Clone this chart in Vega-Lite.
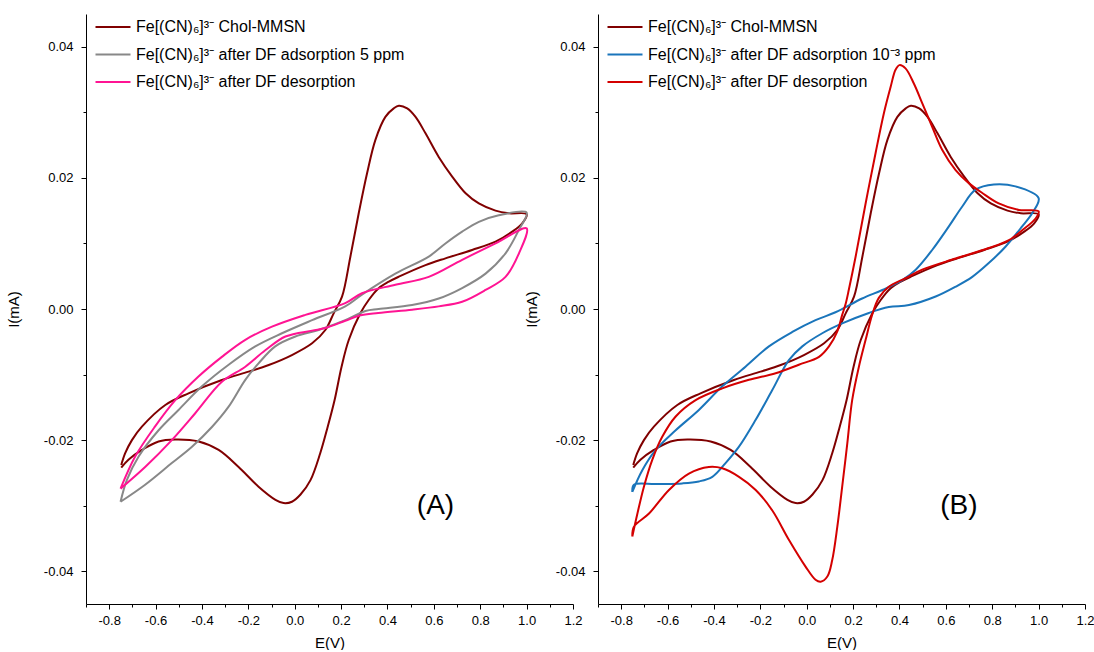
{
  "$schema": "https://vega.github.io/schema/vega-lite/v6.json",
  "background": "white",
  "padding": {"left": 6, "top": 14, "right": 0, "bottom": 0},
  "config": {
    "view": {"stroke": null},
    "font": "Liberation Sans",
    "axis": {
      "domainColor": "black", "domainWidth": 1, "tickColor": "black", "tickWidth": 1,
      "labelColor": "black", "titleColor": "black", "labelFontSize": 13, "titleFontSize": 15,
      "titleFontWeight": "normal", "grid": false, "labelFont": "Liberation Sans", "titleFont": "Liberation Sans",
      "labelFlush": false, "labelOverlap": false
    },
    "legend": {
      "orient": "none", "legendX": 19, "legendY": 5, "title": null, "padding": 0,
      "symbolType": "M-2.5,0H2.5", "symbolSize": 196, "symbolStrokeWidth": 2,
      "labelFontSize": 16, "labelFont": "Liberation Sans", "labelColor": "black", "labelLimit": 500,
      "labelOffset": 15, "rowPadding": 11.5
    }
  },
  "datasets": {
    "cv": [
      {"series":"chol","k":1,"E":-0.748,"I":-0.0238},{"series":"chol","k":2,"E":-0.731,"I":-0.0220},{"series":"chol","k":3,"E":-0.702,"I":-0.0200},{"series":"chol","k":4,"E":-0.659,"I":-0.01795},{"series":"chol","k":5,"E":-0.558,"I":-0.01464},{"series":"chol","k":6,"E":-0.458,"I":-0.01286},{"series":"chol","k":7,"E":-0.314,"I":-0.01083},{"series":"chol","k":8,"E":-0.199,"I":-0.00956},{"series":"chol","k":9,"E":-0.112,"I":-0.00854},{"series":"chol","k":10,"E":-0.012,"I":-0.00702},{"series":"chol","k":11,"E":0.075,"I":-0.00523},{"series":"chol","k":12,"E":0.132,"I":-0.0032},{"series":"chol","k":13,"E":0.168,"I":-0.00066},{"series":"chol","k":14,"E":0.204,"I":0.00188},{"series":"chol","k":15,"E":0.240,"I":0.00798},{"series":"chol","k":16,"E":0.276,"I":0.0146},{"series":"chol","k":17,"E":0.312,"I":0.0207},{"series":"chol","k":18,"E":0.348,"I":0.0258},{"series":"chol","k":19,"E":0.391,"I":0.0293},{"series":"chol","k":20,"E":0.427,"I":0.0306},{"series":"chol","k":21,"E":0.449,"I":0.0310},{"series":"chol","k":22,"E":0.485,"I":0.0306},{"series":"chol","k":23,"E":0.521,"I":0.0293},{"series":"chol","k":24,"E":0.564,"I":0.0268},{"series":"chol","k":25,"E":0.621,"I":0.0232},{"series":"chol","k":26,"E":0.679,"I":0.0202},{"series":"chol","k":27,"E":0.737,"I":0.01765},{"series":"chol","k":28,"E":0.794,"I":0.0161},{"series":"chol","k":29,"E":0.866,"I":0.0150},{"series":"chol","k":30,"E":0.923,"I":0.0146},{"series":"chol","k":31,"E":1.0,"I":0.01445},{"series":"chol","k":32,"E":0.981,"I":0.01307},{"series":"chol","k":33,"E":0.938,"I":0.0118},{"series":"chol","k":34,"E":0.866,"I":0.01027},{"series":"chol","k":35,"E":0.765,"I":0.0090},{"series":"chol","k":36,"E":0.650,"I":0.00773},{"series":"chol","k":37,"E":0.564,"I":0.0067},{"series":"chol","k":38,"E":0.449,"I":0.00493},{"series":"chol","k":39,"E":0.406,"I":0.00417},{"series":"chol","k":40,"E":0.362,"I":0.00316},{"series":"chol","k":41,"E":0.319,"I":0.00137},{"series":"chol","k":42,"E":0.283,"I":-0.00066},{"series":"chol","k":43,"E":0.233,"I":-0.00473},{"series":"chol","k":44,"E":0.202,"I":-0.0088},{"series":"chol","k":45,"E":0.172,"I":-0.01388},{"series":"chol","k":46,"E":0.142,"I":-0.0180},{"series":"chol","k":47,"E":0.110,"I":-0.0220},{"series":"chol","k":48,"E":0.068,"I":-0.0261},{"series":"chol","k":49,"E":0.025,"I":-0.0283},{"series":"chol","k":50,"E":-0.012,"I":-0.0294},{"series":"chol","k":51,"E":-0.048,"I":-0.0296},{"series":"chol","k":52,"E":-0.083,"I":-0.0291},{"series":"chol","k":53,"E":-0.156,"I":-0.0271},{"series":"chol","k":54,"E":-0.242,"I":-0.0241},{"series":"chol","k":55,"E":-0.328,"I":-0.0215},{"series":"chol","k":56,"E":-0.414,"I":-0.0202},{"series":"chol","k":57,"E":-0.515,"I":-0.0199},{"series":"chol","k":58,"E":-0.587,"I":-0.0202},{"series":"chol","k":59,"E":-0.659,"I":-0.0215},{"series":"chol","k":60,"E":-0.717,"I":-0.0230},{"series":"chol","k":61,"E":-0.748,"I":-0.0242},

      {"series":"ads5","k":1,"E":-0.751,"I":-0.0294},{"series":"ads5","k":2,"E":-0.724,"I":-0.0261},{"series":"ads5","k":3,"E":-0.673,"I":-0.0225},{"series":"ads5","k":4,"E":-0.587,"I":-0.0185},{"series":"ads5","k":5,"E":-0.501,"I":-0.0154},{"series":"ads5","k":6,"E":-0.400,"I":-0.0118},{"series":"ads5","k":7,"E":-0.285,"I":-0.0085},{"series":"ads5","k":8,"E":-0.170,"I":-0.0057},{"series":"ads5","k":9,"E":-0.055,"I":-0.0037},{"series":"ads5","k":10,"E":0.075,"I":-0.0017},{"series":"ads5","k":11,"E":0.218,"I":0.0004},{"series":"ads5","k":12,"E":0.290,"I":0.0022},{"series":"ads5","k":13,"E":0.434,"I":0.0054},{"series":"ads5","k":14,"E":0.578,"I":0.0080},{"series":"ads5","k":15,"E":0.650,"I":0.0100},{"series":"ads5","k":16,"E":0.722,"I":0.0118},{"series":"ads5","k":17,"E":0.794,"I":0.0133},{"series":"ads5","k":18,"E":0.880,"I":0.0143},{"series":"ads5","k":19,"E":1.0,"I":0.0147},{"series":"ads5","k":20,"E":0.967,"I":0.0121},{"series":"ads5","k":21,"E":0.909,"I":0.0085},{"series":"ads5","k":22,"E":0.823,"I":0.0054},{"series":"ads5","k":23,"E":0.722,"I":0.0032},{"series":"ads5","k":24,"E":0.621,"I":0.0016},{"series":"ads5","k":25,"E":0.506,"I":0.0006},{"series":"ads5","k":26,"E":0.362,"I":0.0000},{"series":"ads5","k":27,"E":0.305,"I":-0.0003},{"series":"ads5","k":28,"E":0.218,"I":-0.0017},{"series":"ads5","k":29,"E":0.103,"I":-0.0032},{"series":"ads5","k":30,"E":0.003,"I":-0.0042},{"series":"ads5","k":31,"E":-0.084,"I":-0.0057},{"series":"ads5","k":32,"E":-0.156,"I":-0.0083},{"series":"ads5","k":33,"E":-0.213,"I":-0.0108},{"series":"ads5","k":34,"E":-0.285,"I":-0.0149},{"series":"ads5","k":35,"E":-0.357,"I":-0.0180},{"series":"ads5","k":36,"E":-0.443,"I":-0.0210},{"series":"ads5","k":37,"E":-0.530,"I":-0.0235},{"series":"ads5","k":38,"E":-0.645,"I":-0.0268},{"series":"ads5","k":39,"E":-0.751,"I":-0.0294},

      {"series":"desA","k":1,"E":-0.751,"I":-0.0274},{"series":"desA","k":2,"E":-0.688,"I":-0.0225},{"series":"desA","k":3,"E":-0.602,"I":-0.0179},{"series":"desA","k":4,"E":-0.515,"I":-0.0139},{"series":"desA","k":5,"E":-0.415,"I":-0.0103},{"series":"desA","k":6,"E":-0.314,"I":-0.0073},{"series":"desA","k":7,"E":-0.213,"I":-0.0047},{"series":"desA","k":8,"E":-0.098,"I":-0.0027},{"series":"desA","k":9,"E":0.046,"I":-0.0009},{"series":"desA","k":10,"E":0.218,"I":0.0009},{"series":"desA","k":11,"E":0.290,"I":0.0024},{"series":"desA","k":12,"E":0.434,"I":0.0037},{"series":"desA","k":13,"E":0.578,"I":0.0049},{"series":"desA","k":14,"E":0.722,"I":0.0075},{"series":"desA","k":15,"E":0.866,"I":0.0100},{"series":"desA","k":16,"E":1.0,"I":0.0123},{"series":"desA","k":17,"E":0.967,"I":0.0085},{"series":"desA","k":18,"E":0.909,"I":0.0049},{"series":"desA","k":19,"E":0.823,"I":0.0029},{"series":"desA","k":20,"E":0.722,"I":0.0011},{"series":"desA","k":21,"E":0.621,"I":0.0004},{"series":"desA","k":22,"E":0.506,"I":-0.0001},{"series":"desA","k":23,"E":0.360,"I":-0.0006},{"series":"desA","k":24,"E":0.280,"I":-0.0010},{"series":"desA","k":25,"E":0.218,"I":-0.0018},{"series":"desA","k":26,"E":0.132,"I":-0.0029},{"series":"desA","k":27,"E":0.075,"I":-0.0033},{"series":"desA","k":28,"E":-0.040,"I":-0.0042},{"series":"desA","k":29,"E":-0.127,"I":-0.0063},{"series":"desA","k":30,"E":-0.213,"I":-0.0088},{"series":"desA","k":31,"E":-0.314,"I":-0.0111},{"series":"desA","k":32,"E":-0.429,"I":-0.0159},{"series":"desA","k":33,"E":-0.530,"I":-0.0200},{"series":"desA","k":34,"E":-0.645,"I":-0.0241},{"series":"desA","k":35,"E":-0.751,"I":-0.0274},

      {"series":"ads3","k":1,"E":-0.752,"I":-0.0279},{"series":"ads3","k":2,"E":-0.709,"I":-0.0246},{"series":"ads3","k":3,"E":-0.651,"I":-0.0215},{"series":"ads3","k":4,"E":-0.565,"I":-0.0185},{"series":"ads3","k":5,"E":-0.465,"I":-0.0154},{"series":"ads3","k":6,"E":-0.364,"I":-0.0118},{"series":"ads3","k":7,"E":-0.264,"I":-0.0088},{"series":"ads3","k":8,"E":-0.163,"I":-0.0057},{"series":"ads3","k":9,"E":-0.062,"I":-0.0035},{"series":"ads3","k":10,"E":0.038,"I":-0.0017},{"series":"ads3","k":11,"E":0.124,"I":-0.0005},{"series":"ads3","k":12,"E":0.239,"I":0.0016},{"series":"ads3","k":13,"E":0.326,"I":0.0029},{"series":"ads3","k":14,"E":0.412,"I":0.0044},{"series":"ads3","k":15,"E":0.470,"I":0.0060},{"series":"ads3","k":16,"E":0.541,"I":0.0090},{"series":"ads3","k":17,"E":0.613,"I":0.0126},{"series":"ads3","k":18,"E":0.670,"I":0.0156},{"series":"ads3","k":19,"E":0.728,"I":0.0182},{"series":"ads3","k":20,"E":0.807,"I":0.0190},{"series":"ads3","k":21,"E":0.900,"I":0.0187},{"series":"ads3","k":22,"E":1.0,"I":0.0169},{"series":"ads3","k":23,"E":0.972,"I":0.0146},{"series":"ads3","k":24,"E":0.929,"I":0.0126},{"series":"ads3","k":25,"E":0.857,"I":0.0095},{"series":"ads3","k":26,"E":0.785,"I":0.0070},{"series":"ads3","k":27,"E":0.714,"I":0.0049},{"series":"ads3","k":28,"E":0.642,"I":0.0034},{"series":"ads3","k":29,"E":0.556,"I":0.0019},{"series":"ads3","k":30,"E":0.441,"I":0.0006},{"series":"ads3","k":31,"E":0.354,"I":0.0003},{"series":"ads3","k":32,"E":0.268,"I":-0.0006},{"series":"ads3","k":33,"E":0.153,"I":-0.0022},{"series":"ads3","k":34,"E":0.067,"I":-0.0037},{"series":"ads3","k":35,"E":-0.019,"I":-0.0057},{"series":"ads3","k":36,"E":-0.077,"I":-0.0078},{"series":"ads3","k":37,"E":-0.149,"I":-0.0124},{"series":"ads3","k":38,"E":-0.220,"I":-0.0169},{"series":"ads3","k":39,"E":-0.292,"I":-0.0210},{"series":"ads3","k":40,"E":-0.350,"I":-0.0235},{"series":"ads3","k":41,"E":-0.407,"I":-0.0256},{"series":"ads3","k":42,"E":-0.465,"I":-0.0263},{"series":"ads3","k":43,"E":-0.536,"I":-0.0266},{"series":"ads3","k":44,"E":-0.651,"I":-0.0267},{"series":"ads3","k":45,"E":-0.745,"I":-0.0268},{"series":"ads3","k":46,"E":-0.752,"I":-0.0279},

      {"series":"desB","k":1,"E":-0.752,"I":-0.0347},{"series":"desB","k":2,"E":-0.730,"I":-0.0312},{"series":"desB","k":3,"E":-0.702,"I":-0.0271},{"series":"desB","k":4,"E":-0.666,"I":-0.0230},{"series":"desB","k":5,"E":-0.623,"I":-0.0195},{"series":"desB","k":6,"E":-0.565,"I":-0.0164},{"series":"desB","k":7,"E":-0.479,"I":-0.0139},{"series":"desB","k":8,"E":-0.364,"I":-0.0121},{"series":"desB","k":9,"E":-0.249,"I":-0.0108},{"series":"desB","k":10,"E":-0.134,"I":-0.0098},{"series":"desB","k":11,"E":-0.034,"I":-0.0085},{"series":"desB","k":12,"E":0.053,"I":-0.0073},{"series":"desB","k":13,"E":0.096,"I":-0.0057},{"series":"desB","k":14,"E":0.132,"I":-0.0034},{"series":"desB","k":15,"E":0.153,"I":-0.0009},{"series":"desB","k":16,"E":0.168,"I":0.0008},{"series":"desB","k":17,"E":0.182,"I":0.0030},{"series":"desB","k":18,"E":0.211,"I":0.0080},{"series":"desB","k":19,"E":0.254,"I":0.0161},{"series":"desB","k":20,"E":0.297,"I":0.0238},{"series":"desB","k":21,"E":0.333,"I":0.0299},{"series":"desB","k":22,"E":0.362,"I":0.0339},{"series":"desB","k":23,"E":0.383,"I":0.0365},{"series":"desB","k":24,"E":0.400,"I":0.0372},{"series":"desB","k":25,"E":0.426,"I":0.0367},{"series":"desB","k":26,"E":0.462,"I":0.0344},{"series":"desB","k":27,"E":0.498,"I":0.0314},{"series":"desB","k":28,"E":0.541,"I":0.0278},{"series":"desB","k":29,"E":0.584,"I":0.0243},{"series":"desB","k":30,"E":0.642,"I":0.0212},{"series":"desB","k":31,"E":0.699,"I":0.0192},{"series":"desB","k":32,"E":0.757,"I":0.0177},{"series":"desB","k":33,"E":0.828,"I":0.0161},{"series":"desB","k":34,"E":0.915,"I":0.0151},{"series":"desB","k":35,"E":1.0,"I":0.0149},{"series":"desB","k":36,"E":0.987,"I":0.0138},{"series":"desB","k":37,"E":0.929,"I":0.0120},{"series":"desB","k":38,"E":0.872,"I":0.0105},{"series":"desB","k":39,"E":0.785,"I":0.0093},{"series":"desB","k":40,"E":0.642,"I":0.0077},{"series":"desB","k":41,"E":0.498,"I":0.0060},{"series":"desB","k":42,"E":0.426,"I":0.0047},{"series":"desB","k":43,"E":0.354,"I":0.0034},{"series":"desB","k":44,"E":0.311,"I":0.0017},{"series":"desB","k":45,"E":0.283,"I":-0.0008},{"series":"desB","k":46,"E":0.254,"I":-0.0047},{"series":"desB","k":47,"E":0.225,"I":-0.0088},{"series":"desB","k":48,"E":0.196,"I":-0.0139},{"series":"desB","k":49,"E":0.175,"I":-0.0205},{"series":"desB","k":50,"E":0.153,"I":-0.0271},{"series":"desB","k":51,"E":0.132,"I":-0.0332},{"series":"desB","k":52,"E":0.110,"I":-0.0383},{"series":"desB","k":53,"E":0.089,"I":-0.0408},{"series":"desB","k":54,"E":0.060,"I":-0.0416},{"series":"desB","k":55,"E":0.038,"I":-0.0413},{"series":"desB","k":56,"E":-0.005,"I":-0.0393},{"series":"desB","k":57,"E":-0.077,"I":-0.0352},{"series":"desB","k":58,"E":-0.149,"I":-0.0307},{"series":"desB","k":59,"E":-0.220,"I":-0.0276},{"series":"desB","k":60,"E":-0.292,"I":-0.0256},{"series":"desB","k":61,"E":-0.364,"I":-0.0243},{"series":"desB","k":62,"E":-0.422,"I":-0.0241},{"series":"desB","k":63,"E":-0.508,"I":-0.0251},{"series":"desB","k":64,"E":-0.594,"I":-0.0276},{"series":"desB","k":65,"E":-0.680,"I":-0.0312},{"series":"desB","k":66,"E":-0.745,"I":-0.0332},{"series":"desB","k":67,"E":-0.752,"I":-0.0347}
    ],
    "tags": [
      {"panel":"A","tag":"(A)","E":0.607,"I":-0.0300},
      {"panel":"B","tag":"(B)","E":0.656,"I":-0.0300}
    ]
  },
  "hconcat": [
    {
      "width": 487, "height": 590,
      "resolve": {"axis": {"x": "independent", "y": "independent"}},
      "layer": [
        {
          "data": {"name": "cv"},
          "transform": [{"filter": {"field": "series", "oneOf": ["chol", "ads5", "desA"]}}],
          "mark": {"type": "line", "strokeWidth": 2, "interpolate": "catmull-rom"},
          "encoding": {
            "x": {"field": "E", "type": "quantitative", "scale": {"domain": [-0.9, 1.2], "nice": false, "zero": false},
              "axis": {"title": "E(V)", "orient": "bottom", "values": [-0.8,-0.6,-0.4,-0.2,0,0.2,0.4,0.6,0.8,1.0,1.2],
                "labelExpr": "replace(format(datum.value, '.1f'), '−', '-')",
                "tickSize": 5, "labelPadding": 5, "titlePadding": 8}},
            "y": {"field": "I", "type": "quantitative", "scale": {"domain": [-0.045, 0.045], "nice": false, "zero": false},
              "axis": {"title": "I(mA)", "orient": "left", "values": [-0.04,-0.02,0,0.02,0.04],
                "labelExpr": "replace(format(datum.value, '.2f'), '−', '-')",
                "tickSize": 5, "labelPadding": 8, "titlePadding": 22}},
            "order": {"field": "k", "type": "quantitative"},
            "color": {"field": "series", "type": "nominal",
              "scale": {"domain": ["chol", "ads5", "desA"], "range": ["#800000", "#888888", "#ff1493"]},
              "legend": {"labelExpr": "datum.label == 'chol' ? 'Fe[(CN)₆]³⁻ Chol-MMSN' : datum.label == 'ads5' ? 'Fe[(CN)₆]³⁻ after DF adsorption 5 ppm' : 'Fe[(CN)₆]³⁻ after DF desorption'"}}
          }
        },
        {
          "data": {"name": "tags"},
          "transform": [{"filter": "datum.panel == 'A'"}],
          "mark": {"type": "text", "fontSize": 28, "font": "Liberation Sans", "color": "black", "align": "center", "baseline": "middle"},
          "encoding": {
            "x": {"field": "E", "type": "quantitative",
              "axis": {"orient": "bottom", "values": [-0.9,-0.7,-0.5,-0.3,-0.1,0.1,0.3,0.5,0.7,0.9,1.1], "labels": false, "domain": false, "title": null, "tickSize": 3}},
            "y": {"field": "I", "type": "quantitative",
              "axis": {"orient": "left", "values": [-0.03,-0.01,0.01,0.03], "labels": false, "domain": false, "title": null, "tickSize": 3}},
            "text": {"field": "tag"}
          }
        }
      ]
    },
    {
      "width": 487, "height": 590,
      "resolve": {"axis": {"x": "independent", "y": "independent"}},
      "layer": [
        {
          "data": {"name": "cv"},
          "transform": [{"filter": {"field": "series", "oneOf": ["chol", "ads3", "desB"]}}],
          "mark": {"type": "line", "strokeWidth": 2, "interpolate": "catmull-rom"},
          "encoding": {
            "x": {"field": "E", "type": "quantitative", "scale": {"domain": [-0.9, 1.2], "nice": false, "zero": false},
              "axis": {"title": "E(V)", "orient": "bottom", "values": [-0.8,-0.6,-0.4,-0.2,0,0.2,0.4,0.6,0.8,1.0,1.2],
                "labelExpr": "replace(format(datum.value, '.1f'), '−', '-')",
                "tickSize": 5, "labelPadding": 5, "titlePadding": 8}},
            "y": {"field": "I", "type": "quantitative", "scale": {"domain": [-0.045, 0.045], "nice": false, "zero": false},
              "axis": {"title": "I(mA)", "orient": "left", "values": [-0.04,-0.02,0,0.02,0.04],
                "labelExpr": "replace(format(datum.value, '.2f'), '−', '-')",
                "tickSize": 5, "labelPadding": 8, "titlePadding": 16}},
            "order": {"field": "k", "type": "quantitative"},
            "color": {"field": "series", "type": "nominal",
              "scale": {"domain": ["chol", "ads3", "desB"], "range": ["#800000", "#1a75bb", "#d40000"]},
              "legend": {"labelExpr": "datum.label == 'chol' ? 'Fe[(CN)₆]³⁻ Chol-MMSN' : datum.label == 'ads3' ? 'Fe[(CN)₆]³⁻ after DF adsorption 10⁻³ ppm' : 'Fe[(CN)₆]³⁻ after DF desorption'"}}
          }
        },
        {
          "data": {"name": "tags"},
          "transform": [{"filter": "datum.panel == 'B'"}],
          "mark": {"type": "text", "fontSize": 28, "font": "Liberation Sans", "color": "black", "align": "center", "baseline": "middle"},
          "encoding": {
            "x": {"field": "E", "type": "quantitative",
              "axis": {"orient": "bottom", "values": [-0.9,-0.7,-0.5,-0.3,-0.1,0.1,0.3,0.5,0.7,0.9,1.1], "labels": false, "domain": false, "title": null, "tickSize": 3}},
            "y": {"field": "I", "type": "quantitative",
              "axis": {"orient": "left", "values": [-0.03,-0.01,0.01,0.03], "labels": false, "domain": false, "title": null, "tickSize": 3}},
            "text": {"field": "tag"}
          }
        }
      ]
    }
  ],
  "spacing": 25,
  "bounds": "flush",
  "resolve": {"scale": {"color": "independent"}}
}
